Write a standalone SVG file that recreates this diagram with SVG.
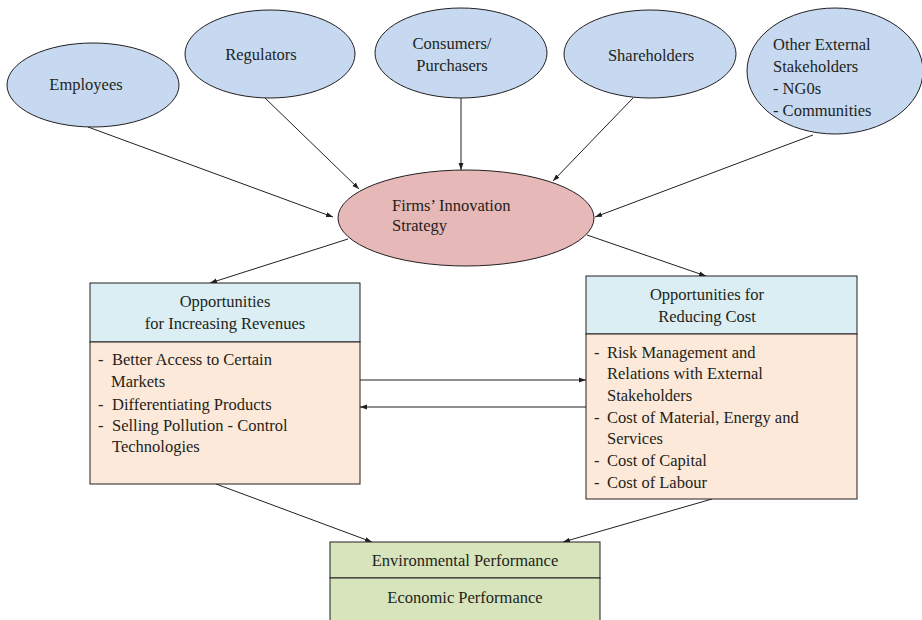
<svg xmlns="http://www.w3.org/2000/svg" width="922" height="620" viewBox="0 0 922 620">
<defs>
<marker id="ah" viewBox="0 0 10 10" refX="10" refY="5" markerWidth="7" markerHeight="7" orient="auto" markerUnits="userSpaceOnUse">
<path d="M0,1.5 L10,5 L0,8.5 z" fill="#231f20"/>
</marker>
<style>
.stake{fill:#c6d9f0;stroke:#231f20;stroke-width:1}
.firm{fill:#e6b8b7;stroke:#231f20;stroke-width:1}
.head{fill:#daeef3;stroke:#231f20;stroke-width:1}
.body{fill:#fde9d9;stroke:#231f20;stroke-width:1}
.perf{fill:#d7e4bc;stroke:#231f20;stroke-width:1}
text{font-family:"Liberation Serif","Times New Roman",serif;font-size:16.5px;fill:#231f20}
.c{text-anchor:middle}
.conn line{stroke:#231f20;stroke-width:1;marker-end:url(#ah)}
</style>
</defs>
<rect width="922" height="620" fill="#ffffff"/>

<g id="connectors" class="conn">
<line x1="88" y1="127" x2="333" y2="217"/>
<line x1="265" y1="98" x2="359" y2="189"/>
<line x1="461" y1="98" x2="461" y2="170"/>
<line x1="633" y1="98" x2="553" y2="181"/>
<line x1="813" y1="135" x2="595" y2="217"/>
<line x1="348" y1="239" x2="210" y2="283"/>
<line x1="587" y1="235" x2="706" y2="276"/>
<line x1="360" y1="380" x2="586" y2="380"/>
<line x1="586" y1="407" x2="360" y2="407"/>
<line x1="216" y1="484" x2="372" y2="542"/>
<line x1="712" y1="499" x2="563" y2="542"/>
</g>

<g id="employees">
<ellipse class="stake" cx="93" cy="85" rx="86" ry="42"/>
<text class="c" x="86" y="90">Employees</text>
</g>
<g id="regulators">
<ellipse class="stake" cx="270" cy="54" rx="85" ry="44"/>
<text class="c" x="261" y="60">Regulators</text>
</g>
<g id="consumers">
<ellipse class="stake" cx="461" cy="53" rx="86" ry="45"/>
<text class="c" x="452" y="49">Consumers/</text>
<text class="c" x="452" y="71">Purchasers</text>
</g>
<g id="shareholders">
<ellipse class="stake" cx="650" cy="54" rx="86" ry="44"/>
<text class="c" x="651" y="61">Shareholders</text>
</g>
<g id="other">
<ellipse class="stake" cx="835" cy="71" rx="88" ry="63"/>
<text x="773" y="50">Other External</text>
<text x="773" y="72">Stakeholders</text>
<text x="773" y="94">- NG0s</text>
<text x="773" y="116">- Communities</text>
</g>
<g id="firm">
<ellipse class="firm" cx="466" cy="218" rx="128" ry="48"/>
<text x="392" y="211">Firms’ Innovation</text>
<text x="392" y="231">Strategy</text>
</g>

<g id="revenues">
<rect class="head" x="90" y="283" width="270" height="59"/>
<rect class="body" x="90" y="342" width="270" height="142"/>
<text class="c" x="225" y="307">Opportunities</text>
<text class="c" x="225" y="329">for Increasing Revenues</text>
<text x="98" y="365">-</text><text x="112" y="365">Better Access to Certain</text>
<text x="111" y="387">Markets</text>
<text x="98" y="410">-</text><text x="112" y="410">Differentiating Products</text>
<text x="98" y="431">-</text><text x="112" y="431">Selling Pollution - Control</text>
<text x="112" y="452">Technologies</text>
</g>

<g id="cost">
<rect class="head" x="586" y="276" width="271" height="58"/>
<rect class="body" x="586" y="334" width="271" height="165"/>
<text class="c" x="707" y="300">Opportunities for</text>
<text class="c" x="707" y="322">Reducing Cost</text>
<text x="594" y="358">-</text><text x="607" y="358">Risk  Management and</text>
<text x="607" y="379">Relations with External</text>
<text x="607" y="401">Stakeholders</text>
<text x="594" y="423">-</text><text x="607" y="423">Cost of Material, Energy and</text>
<text x="607" y="444">Services</text>
<text x="594" y="466">-</text><text x="607" y="466">Cost of Capital</text>
<text x="594" y="488">-</text><text x="607" y="488">Cost of Labour</text>
</g>

<g id="performance">
<rect class="perf" x="330" y="542" width="270" height="36"/>
<rect class="perf" x="330" y="578" width="270" height="46"/>
<text class="c" x="465" y="566">Environmental Performance</text>
<text class="c" x="465" y="603">Economic Performance</text>
</g>
</svg>
